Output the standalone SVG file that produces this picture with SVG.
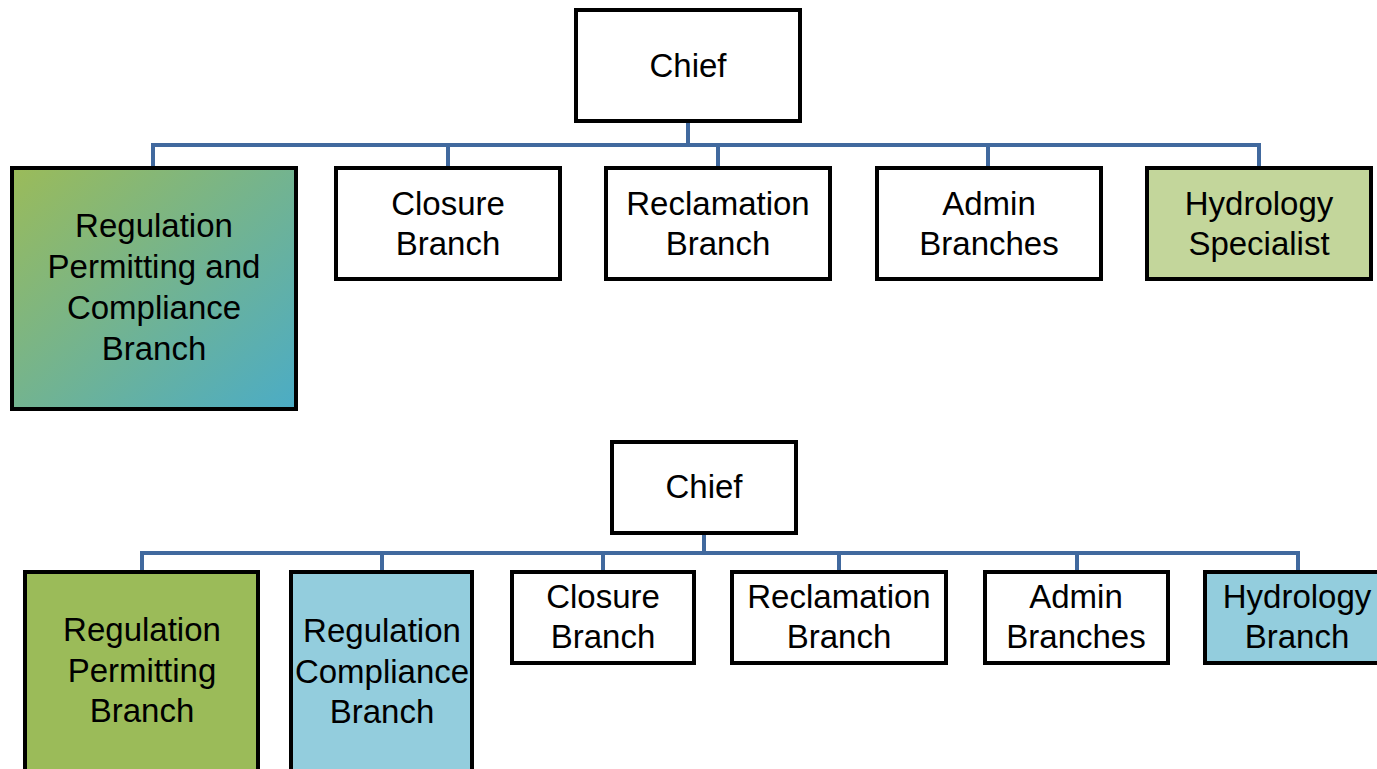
<svg xmlns="http://www.w3.org/2000/svg" width="1377" height="769" viewBox="0 0 1377 769">
<defs>
<linearGradient id="g1" x1="0" y1="0" x2="1" y2="1">
<stop offset="0" stop-color="#9BBB59"/>
<stop offset="1" stop-color="#4BACC6"/>
</linearGradient>
<style>
.box{stroke:#000;stroke-width:4;fill:#fff}
.t{font-family:"Liberation Sans",Arial,sans-serif;font-size:33px;fill:#000;text-anchor:middle}
.c{stroke:#41699E;stroke-width:4;fill:none}
</style>
</defs>
<rect width="1377" height="769" fill="#fff"/>
<g id="connectors">
<path class="c" d="M688 121V145M153 168V145H1259V168M448 145V168M718 145V168M988 145V168"/>
<path class="c" d="M704 533V553M142 572V553H1298V572M382 553V572M603 553V572M839 553V572M1077 553V572"/>
</g>
<g id="chief1"><rect class="box" x="576" y="10" width="224" height="111"/><text class="t" x="688" y="77">Chief</text></g>
<g id="rpc"><rect class="box" x="12" y="168" width="284" height="241" style="fill:url(#g1)"/><text class="t" x="154" y="237">Regulation</text><text class="t" x="154" y="278">Permitting and</text><text class="t" x="154" y="319">Compliance</text><text class="t" x="154" y="360">Branch</text></g>
<g id="closure1"><rect class="box" x="336" y="168" width="224" height="111"/><text class="t" x="448" y="215">Closure</text><text class="t" x="448" y="255">Branch</text></g>
<g id="reclamation1"><rect class="box" x="606" y="168" width="224" height="111"/><text class="t" x="718" y="215">Reclamation</text><text class="t" x="718" y="255">Branch</text></g>
<g id="admin1"><rect class="box" x="877" y="168" width="224" height="111"/><text class="t" x="989" y="215">Admin</text><text class="t" x="989" y="255">Branches</text></g>
<g id="hydro1"><rect class="box" x="1147" y="168" width="224" height="111" style="fill:#C3D69B"/><text class="t" x="1259" y="215">Hydrology</text><text class="t" x="1259" y="255">Specialist</text></g>
<g id="chief2"><rect class="box" x="612" y="442" width="184" height="91"/><text class="t" x="704" y="498">Chief</text></g>
<g id="regperm"><rect class="box" x="25" y="572" width="233" height="210" style="fill:#9BBB59"/><text class="t" x="142" y="641">Regulation</text><text class="t" x="142" y="682">Permitting</text><text class="t" x="142" y="722">Branch</text></g>
<g id="regcomp"><rect class="box" x="291" y="572" width="181" height="210" style="fill:#93CDDD"/><text class="t" x="382" y="642">Regulation</text><text class="t" x="382" y="683">Compliance</text><text class="t" x="382" y="723">Branch</text></g>
<g id="closure2"><rect class="box" x="512" y="572" width="182" height="91"/><text class="t" x="603" y="608">Closure</text><text class="t" x="603" y="648">Branch</text></g>
<g id="reclamation2"><rect class="box" x="732" y="572" width="214" height="91"/><text class="t" x="839" y="608">Reclamation</text><text class="t" x="839" y="648">Branch</text></g>
<g id="admin2"><rect class="box" x="985" y="572" width="183" height="91"/><text class="t" x="1076" y="608">Admin</text><text class="t" x="1076" y="648">Branches</text></g>
<g id="hydro2"><rect class="box" x="1205" y="572" width="190" height="91" style="fill:#93CDDD"/><text class="t" x="1297" y="608">Hydrology</text><text class="t" x="1297" y="648">Branch</text></g>
</svg>
